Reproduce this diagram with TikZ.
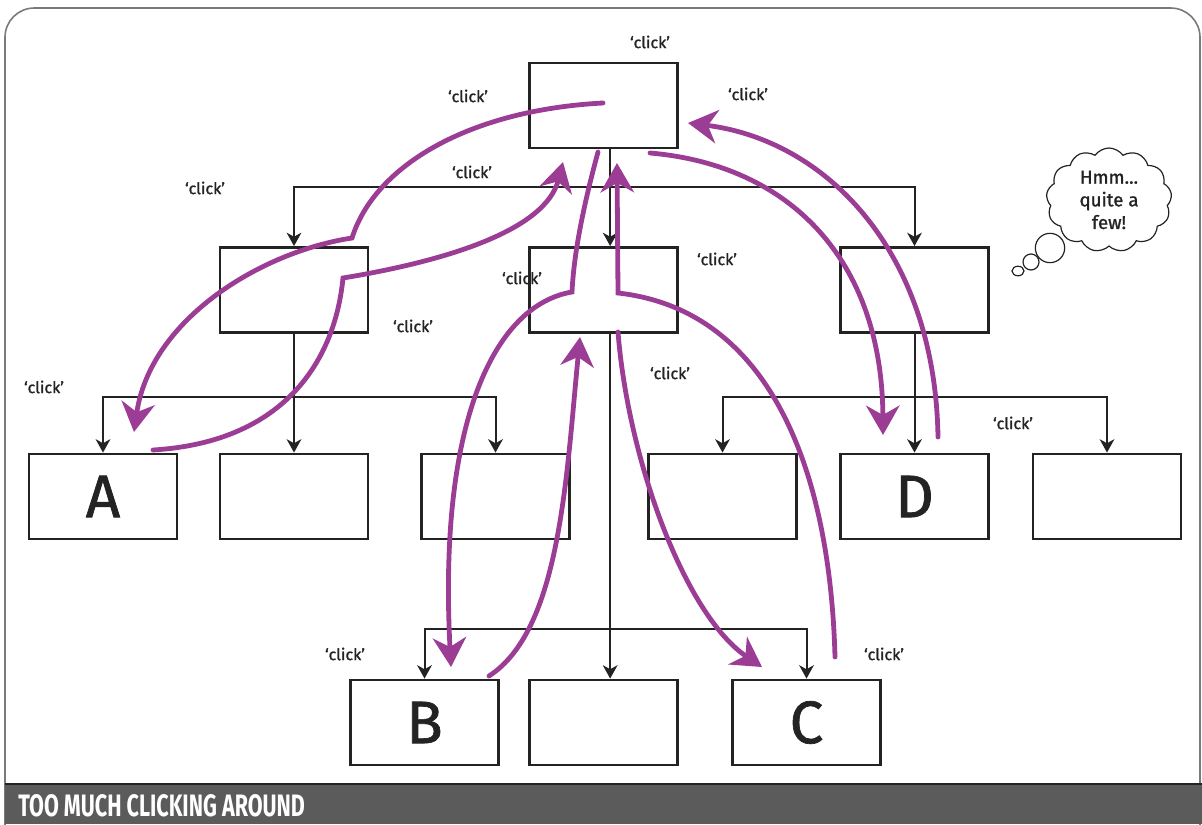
\documentclass[tikz,border=0pt]{standalone}
\usepackage{fontspec}
\usepackage{graphicx}
\setmainfont{Fira Sans}
\newfontfamily\heavyfont[FakeBold=1.2]{Fira Sans}
\usetikzlibrary{arrows.meta,shapes.symbols}

\definecolor{clickpurple}{HTML}{9C3D95}
\definecolor{boxline}{HTML}{232323}
\definecolor{framegray}{HTML}{7A7A7A}
\definecolor{bannergray}{HTML}{5B5B5B}

\tikzset{
  pagebox/.style={draw=boxline, line width=1.9pt, minimum width=111pt, minimum height=64pt,
    inner sep=0pt, font=\heavyfont\fontsize{45}{45}\selectfont, text=boxline},
  flow/.style={draw=boxline, line width=1.5pt, -{Stealth[length=10pt,width=11pt,inset=3pt]}},
  clickpath/.style={draw=clickpurple, line width=3.6pt, line cap=round,
    -{Stealth[length=22pt,width=25pt,inset=7pt]}},
  clicktxt/.style={font=\heavyfont\fontsize{12}{12}\selectfont, text=boxline}
}

\begin{document}
\begin{tikzpicture}[x=0.75pt,y=-0.75pt]

  \useasboundingbox (0,0) rectangle (1202,824);

  % frame and banner
  \begin{scope}
    \clip (0,0) rectangle (1202,824);
    \draw[framegray, line width=1.2pt, rounded corners=22pt] (5,8) rectangle (1200,860);
  \end{scope}
  \fill[bannergray] (5,784) rectangle (1202,824);
  \draw[boxline, line width=1.2pt] (5,784) -- (1202,784);
  \node[anchor=west, inner sep=0pt, text=white] (banner) at (18,806)
    {\resizebox{215pt}{16.5pt}{\bfseries TOO MUCH CLICKING AROUND}};

  % pages
  \node[pagebox] (top)    at (603.5,105.5) {};
  \node[pagebox] (midL)   at (294,290) {};
  \node[pagebox] (midC)   at (603.5,290) {};
  \node[pagebox] (midR)   at (914.5,290) {};
  \node[pagebox] (leafA)  at (103,496.5) {A};
  \node[pagebox] (leafL2) at (294,496.5) {};
  \node[pagebox] (leafL3) at (495.5,496.5) {};
  \node[pagebox] (leafR1) at (722.5,496.5) {};
  \node[pagebox] (leafD)  at (914.5,496.5) {D};
  \node[pagebox] (leafR3) at (1107,496.5) {};
  \node[pagebox] (leafB)  at (424.5,722.5) {B};
  \node[pagebox] (leafM)  at (603.5,722.5) {};
  \node[pagebox] (leafC)  at (806.5,722.5) {C};

  % hierarchy
  \draw[flow] ([xshift=5pt]top.south) -- ++(0,38) -| (midL.north);
  \draw[flow] ([xshift=5pt]top.south) -- ([xshift=5pt]midC.north);
  \draw[flow] ([xshift=5pt]top.south) -- ++(0,38) -| (midR.north);

  \draw[flow] (midL.south) -- ++(0,63) -| (leafA.north);
  \draw[flow] (midL.south) -- (leafL2.north);
  \draw[flow] (midL.south) -- ++(0,63) -| (leafL3.north);

  \draw[flow] (midR.south) -- ++(0,63) -| (leafR1.north);
  \draw[flow] (midR.south) -- (leafD.north);
  \draw[flow] (midR.south) -- ++(0,63) -| (leafR3.north);

  \draw[flow] ([xshift=5pt]midC.south) -- ++(0,295) -| (leafB.north);
  \draw[flow] ([xshift=5pt]midC.south) -- ([xshift=5pt]leafM.north);
  \draw[flow] ([xshift=5pt]midC.south) -- ++(0,295) -| (leafC.north);

  % clicks
  \coordinate (kinkA) at (352,238);
  \coordinate (kinkB) at (343,278);
  \coordinate (kinkC) at (572,292);
  \coordinate (kinkD) at (618,293);

  \draw[clickpath] (603,103) .. controls (470,110) and (375,165) .. (kinkA)
    .. controls (260,252) and (150,320) .. (134,432);
  \draw[clickpath] (153,450) .. controls (285,442) and (335,360) .. (kinkB)
    .. controls (440,262) and (545,232) .. (563,162);
  \draw[clickpath] (598,152) .. controls (585,200) and (574,250) .. (kinkC)
    .. controls (495,305) and (438,420) .. (451,667);
  \draw[clickpath] (489,676) .. controls (560,630) and (566,480) .. (580,337);
  \draw[clickpath] (835,657) .. controls (830,470) and (770,310) .. (kinkD)
    -- (617,163);
  \draw[clickpath] (618,332) .. controls (628,460) and (685,615) .. (762,667);
  \draw[clickpath] (650,153) .. controls (790,165) and (882,260) .. (883,435);
  \draw[clickpath] (938,437) .. controls (935,250) and (825,140) .. (688,123);

  \foreach \pos [count=\i] in {(650,42),(468,96),(748,94),(205,188),(472,172),
      (717,259),(522,278),(413,326),(44,387),(670,373),(1013,423),(345,654),(884,654)}
    \node[clicktxt] (click\i) at \pos {‘click’};

  % thought bubble
  \node[cloud, draw=boxline, line width=0.9pt, cloud puffs=13, cloud puff arc=110, aspect=1.2,
    minimum width=94pt, minimum height=78pt, inner sep=0pt, align=center,
    font=\heavyfont\fontsize{14}{17}\selectfont, text=boxline] (bubble) at (1109,200) {Hmm...\\quite a\\few!};
  \draw[boxline, line width=0.9pt] (1050,248) circle[radius=11pt];
  \draw[boxline, line width=0.9pt] (1031,262) circle[radius=6pt];
  \draw[boxline, line width=0.9pt] (1018,271) ellipse[x radius=4.5pt, y radius=3.6pt];

\end{tikzpicture}
\end{document}
